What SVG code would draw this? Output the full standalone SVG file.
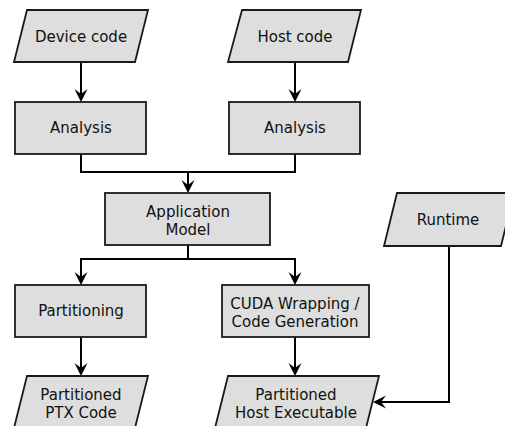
<svg xmlns="http://www.w3.org/2000/svg" width="505" height="426" viewBox="0 0 505 426">
<style>
.shape{fill:#dedede;stroke:#1a1a1a;stroke-width:1.8}
.lbl{font-family:"DejaVu Sans","Liberation Sans",sans-serif;font-size:15px;fill:#111;text-anchor:middle}
.conn{fill:none;stroke:#000;stroke-width:2}
</style>
<defs>
<marker id="arr" markerUnits="userSpaceOnUse" markerWidth="16" markerHeight="16" viewBox="0 -8 16 16" refX="10" refY="0" orient="auto">
<path d="M13,0 L0,-6.5 L5,0 L0,6.5 Z" fill="#000"/>
</marker>
</defs>
<rect width="505" height="426" fill="#fff"/>
<g id="connectors">
<path class="conn" d="M81,62 V99" marker-end="url(#arr)"/>
<path class="conn" d="M295,62 V99" marker-end="url(#arr)"/>
<path class="conn" d="M81,154 V172 H295 V154"/>
<path class="conn" d="M188,172 V190" marker-end="url(#arr)"/>
<path class="conn" d="M188,245 V259"/>
<path class="conn" d="M188,259 H81 V282" marker-end="url(#arr)"/>
<path class="conn" d="M188,259 H295 V282" marker-end="url(#arr)"/>
<path class="conn" d="M81,337 V373" marker-end="url(#arr)"/>
<path class="conn" d="M295,337 V373" marker-end="url(#arr)"/>
<path class="conn" d="M449,246 V402 H376" marker-end="url(#arr)"/>
</g>
<g id="device-code">
<polygon class="shape" points="27,10 148,10 135,62 14,62"/>
<text class="lbl" x="81" y="42">Device code</text>
</g>
<g id="host-code">
<polygon class="shape" points="242,10 361,10 348,62 228,62"/>
<text class="lbl" x="295" y="42">Host code</text>
</g>
<g id="analysis-device">
<rect class="shape" x="15" y="102" width="131" height="52"/>
<text class="lbl" x="81" y="133">Analysis</text>
</g>
<g id="analysis-host">
<rect class="shape" x="229" y="102" width="131" height="52"/>
<text class="lbl" x="295" y="133">Analysis</text>
</g>
<g id="application-model">
<rect class="shape" x="105" y="193" width="165" height="52"/>
<text class="lbl" x="188" y="217">Application</text>
<text class="lbl" x="188" y="235">Model</text>
</g>
<g id="runtime">
<polygon class="shape" points="397,193 514,193 501,246 384,246"/>
<text class="lbl" x="448" y="225">Runtime</text>
</g>
<g id="partitioning">
<rect class="shape" x="15" y="285" width="131" height="52"/>
<text class="lbl" x="81" y="316">Partitioning</text>
</g>
<g id="cuda-wrapping">
<rect class="shape" x="222" y="285" width="147" height="52"/>
<text class="lbl" x="295" y="309">CUDA Wrapping /</text>
<text class="lbl" x="295" y="327">Code Generation</text>
</g>
<g id="partitioned-ptx">
<polygon class="shape" points="27,376 148,376 135,428 14,428"/>
<text class="lbl" x="81" y="400">Partitioned</text>
<text class="lbl" x="81" y="418">PTX Code</text>
</g>
<g id="partitioned-host">
<polygon class="shape" points="228,376 379,376 366,428 215,428"/>
<text class="lbl" x="296" y="400">Partitioned</text>
<text class="lbl" x="296" y="418">Host Executable</text>
</g>
</svg>
